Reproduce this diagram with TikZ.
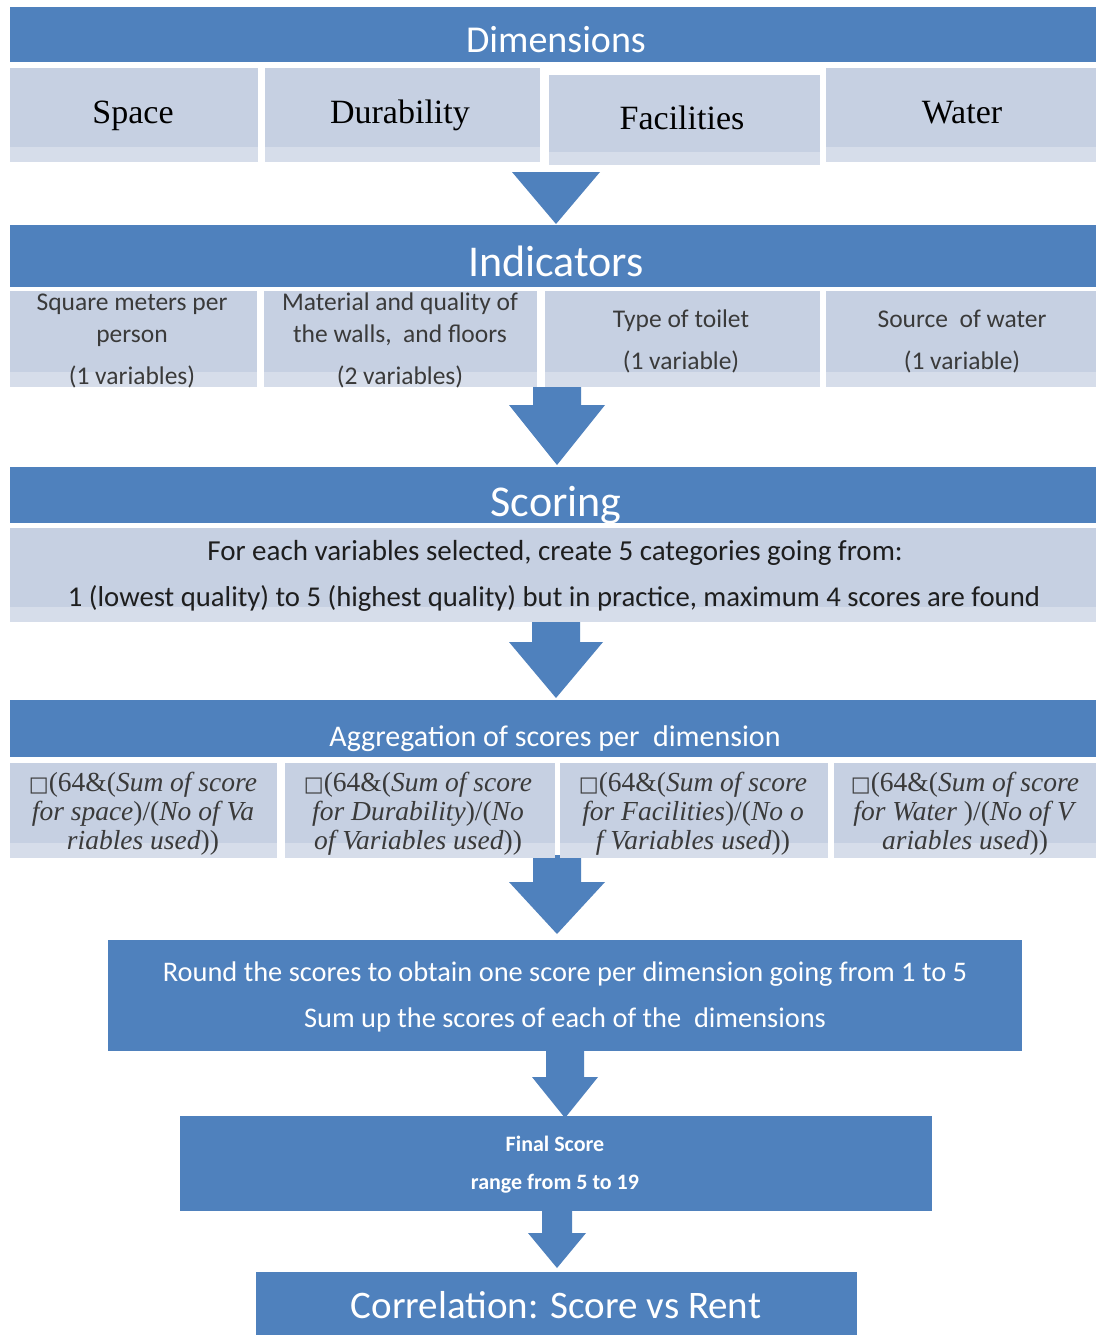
\documentclass[tikz,border=0pt]{standalone}
\usepackage{fontspec}
\setmainfont{Carlito}
\newfontfamily\tms{Liberation Serif}
\newfontfamily\dvs{DejaVu Sans}
\definecolor{hblue}{HTML}{4F81BD}
\definecolor{lbox}{HTML}{C6D0E2}
\definecolor{lband}{HTML}{D6DDEA}
\definecolor{itxt}{HTML}{3A3A3A}
\definecolor{stxt}{HTML}{1E1E1E}
\newcommand\blkarrow[6]{\fill[arrowfill] (#1-#5,#2) -- (#1+#5,#2) -- (#1+#5,#3) -- (#1+#6,#3) -- (#1,#4) -- (#1-#6,#3) -- (#1-#5,#3) -- cycle;}
\newcommand\fm[1]{\textit{#1}}
\newcommand\sq{{\dvs\fontsize{21}{21}\selectfont □}}
\begin{document}
\begin{tikzpicture}[x=1pt,y=-1pt,
  hdr/.style={fill=hblue, inner sep=0, anchor=north west, draw=none},
  lb/.style={fill=lbox, inner sep=0, anchor=north west, draw=none,
    path picture={\fill[lband] ([yshift=15pt]path picture bounding box.south west) rectangle (path picture bounding box.south east);}},
  arrowfill/.style={fill=hblue, draw=none},
  ln/.style={anchor=mid, inner sep=0},
  dimf/.style={ln, font=\tms\fontsize{34}{34}\selectfont, text=black},
  indf/.style={ln, font=\fontsize{25.5}{25.5}\selectfont, text=itxt},
  frm/.style={ln, font=\tms\fontsize{27.5}{27.5}\selectfont, text=itxt},
  wt/.style={ln, text=white}]
\useasboundingbox[fill=white] (0,0) rectangle (1096,1335);

% block arrows (drawn first, boxes cover the stems)
\blkarrow{556}{172}{172}{224}{24}{44}
\blkarrow{557}{387}{405}{465}{24}{48}
\blkarrow{556}{620}{642}{698}{24}{47}
\blkarrow{557}{855}{882}{934}{24}{48}
\blkarrow{565}{1045}{1077}{1118}{19}{33}
\blkarrow{557}{1205}{1233}{1268}{15}{29}

% Dimensions
\node[hdr, minimum width=1086, minimum height=55] (dimhdr) at (10,7) {};
\node[wt, font=\fontsize{38}{38}\selectfont] (dimt) at (556,50) {Dimensions};
\node[lb, minimum width=248, minimum height=94] (d1) at (10,68) {};
\node[lb, minimum width=275, minimum height=94] (d2) at (265,68) {};
\node[lb, minimum width=274, minimum height=93, draw=white, line width=3pt] (d3) at (546,72) {};
\node[lb, minimum width=270, minimum height=94] (d4) at (826,68) {};
\node[dimf] (d1t) at (133,121) {Space};
\node[dimf] (d2t) at (400,121) {Durability};
\node[dimf] (d3t) at (682,127) {Facilities};
\node[dimf] (d4t) at (962,121) {Water};

% Indicators
\node[hdr, minimum width=1086, minimum height=62] (indhdr) at (10,225) {};
\node[wt, font=\fontsize{44}{44}\selectfont] (indt) at (556,274) {Indicators};
\node[lb, minimum width=247, minimum height=96] (i1) at (10,291) {};
\node[lb, minimum width=273, minimum height=96] (i2) at (264,291) {};
\node[lb, minimum width=275, minimum height=96] (i3) at (545,291) {};
\node[lb, minimum width=270, minimum height=96] (i4) at (826,291) {};
\node[indf] (i1a) at (132,308) {Square meters per};
\node[indf] (i1b) at (132,340) {person};
\node[indf] (i1c) at (132,382) {(1 variables)};
\node[indf] (i2a) at (400,308) {Material and quality of};
\node[indf] (i2b) at (400,340) {the walls,\ \ and floors};
\node[indf] (i2c) at (400,382) {(2 variables)};
\node[indf] (i3a) at (681,325) {Type of toilet};
\node[indf] (i3b) at (681,367) {(1 variable)};
\node[indf] (i4a) at (962,325) {Source\ \ of water};
\node[indf] (i4b) at (962,367) {(1 variable)};

% Scoring
\node[hdr, minimum width=1086, minimum height=56] (schdr) at (10,467) {};
\node[wt, font=\fontsize{44}{44}\selectfont] (sct) at (556,514) {Scoring};
\node[lb, minimum width=1086, minimum height=94] (scb) at (10,528) {};
\node[ln, font=\fontsize{29}{29}\selectfont, text=stxt] (sc1) at (555,558) {For each variables selected, create 5 categories going from:};
\node[ln, font=\fontsize{28.7}{28.7}\selectfont, text=stxt] (sc2) at (554,604) {1 (lowest quality) to 5 (highest quality) but in practice, maximum 4 scores are found};

% Aggregation
\node[hdr, minimum width=1086, minimum height=57] (agghdr) at (10,700) {};
\node[wt, font=\fontsize{30}{30}\selectfont] (aggt) at (555,744) {Aggregation of scores per\ \ dimension};
\node[lb, minimum width=267, minimum height=95] (a1) at (10,763) {};
\node[lb, minimum width=270, minimum height=95] (a2) at (285,763) {};
\node[lb, minimum width=268, minimum height=95] (a3) at (560,763) {};
\node[lb, minimum width=262, minimum height=95] (a4) at (834,763) {};
\node[frm] (a1a) at (143,789) {\sq(64\&(\fm{Sum of score}};
\node[frm] (a1b) at (143,818) {\fm{for space})/(\fm{No of Va}};
\node[frm] (a1c) at (143,847) {\fm{riables used}))};
\node[frm] (a2a) at (418,789) {\sq(64\&(\fm{Sum of score}};
\node[frm] (a2b) at (418,818) {\fm{for Durability})/(\fm{No}};
\node[frm] (a2c) at (418,847) {\fm{of Variables used}))};
\node[frm] (a3a) at (693,789) {\sq(64\&(\fm{Sum of score}};
\node[frm] (a3b) at (693,818) {\fm{for Facilities})/(\fm{No o}};
\node[frm] (a3c) at (693,847) {\fm{f Variables used}))};
\node[frm] (a4a) at (965,789) {\sq(64\&(\fm{Sum of score}};
\node[frm] (a4b) at (965,818) {\fm{for Water} )/(\fm{No of V}};
\node[frm] (a4c) at (965,847) {\fm{ariables used}))};

% Round box
\node[hdr, minimum width=914, minimum height=111] (rnd) at (108,940) {};
\node[wt, font=\fontsize{28.4}{28.4}\selectfont] (rnd1) at (565,979) {Round the scores to obtain one score per dimension going from 1 to 5};
\node[wt, font=\fontsize{28.4}{28.4}\selectfont] (rnd2) at (565,1025) {Sum up the scores of each of the\ \ dimensions};

% Final score
\node[hdr, minimum width=752, minimum height=95] (fin) at (180,1116) {};
\node[wt, font=\bfseries\fontsize{22}{22}\selectfont] (fin1) at (555,1149) {Final Score};
\node[wt, font=\bfseries\fontsize{22}{22}\selectfont] (fin2) at (555,1187) {range from 5 to 19};

% Correlation
\node[hdr, minimum width=601, minimum height=63] (cor) at (256,1272) {};
\node[wt, font=\fontsize{39}{39}\selectfont] (cort) at (556,1316) {Correlation: Score vs Rent};
\end{tikzpicture}
\end{document}
